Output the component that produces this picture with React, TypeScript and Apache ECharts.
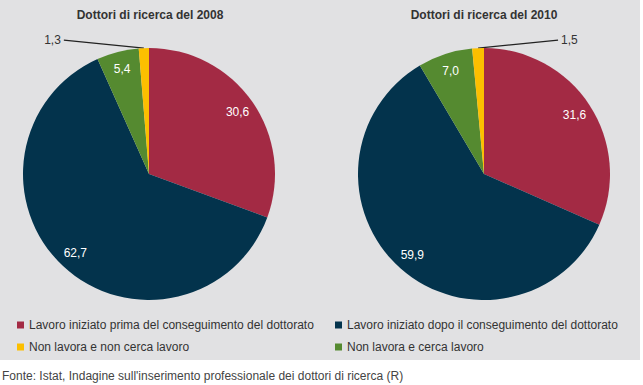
import React, { useEffect, useRef } from 'react';
import * as echarts from 'echarts';

const categories = [
  'Lavoro iniziato prima del conseguimento del dottorato',
  'Lavoro iniziato dopo il conseguimento del dottorato',
  'Non lavora e cerca lavoro',
  'Non lavora e non cerca lavoro',
];
const values2008 = [30.6, 62.7, 5.4, 1.3];
const values2010 = [31.6, 59.9, 7.0, 1.5];
const titles = ['Dottori di ricerca del 2008', 'Dottori di ricerca del 2010'];
const sourceText = "Fonte: Istat, Indagine sull'inserimento professionale dei dottori di ricerca (R)";
const colors = ['#a32a44', '#03334c', '#558a30', '#fcbf00'];

const FONT = "'Liberation Sans', Arial, sans-serif";
const R = 126;
const LABEL_R = 105;
const fmt = (v: number) => v.toFixed(1).replace('.', ',');

function pieSeries(values: number[], center: [number, number], dir: number) {
  const main: any = {
    type: 'pie',
    center,
    radius: [0, R],
    startAngle: 90,
    clockwise: true,
    silent: true,
    avoidLabelOverlap: false,
    z: 2,
    data: categories.map((name, i) => ({
      name,
      value: values[i],
      itemStyle: { color: colors[i] },
      label: { show: i === 3 },
      labelLine: { show: i === 3 },
    })),
    label: {
      position: 'outside',
      formatter: (p: any) => fmt(p.value),
      color: '#333',
      fontSize: 12,
      fontFamily: FONT,
    },
    labelLine: { length: 5, length2: 10, lineStyle: { color: '#222', width: 1.2 } },
    labelLayout: (p: any) => {
      if (p.dataIndex !== 3 || !p.labelLinePoints) return {};
      const [x0, y0] = p.labelLinePoints[0];
      const ex = x0 + dir * 80;
      const ey = y0 - 8;
      return {
        x: ex + dir * 3,
        y: ey,
        align: dir < 0 ? 'right' : 'left',
        verticalAlign: 'middle',
        labelLinePoints: [
          [x0, y0],
          [x0 + dir * 40, y0 - 4],
          [ex, ey],
        ],
      };
    },
  };
  const inner: any = {
    type: 'pie',
    center,
    radius: [0, LABEL_R * 2],
    startAngle: 90,
    clockwise: true,
    silent: true,
    avoidLabelOverlap: false,
    z: 3,
    itemStyle: { color: 'rgba(0,0,0,0)' },
    data: categories.map((name, i) => ({
      name,
      value: values[i],
      label: { show: i !== 3 },
    })),
    label: {
      position: 'inside',
      formatter: (p: any) => fmt(p.value),
      color: '#ffffff',
      fontSize: 12,
      fontFamily: FONT,
    },
    labelLine: { show: false },
    emphasis: { disabled: true },
  };
  return [main, inner];
}

export default function App() {
  const ref = useRef<HTMLDivElement>(null);
  useEffect(() => {
    if (!ref.current) return;
    const chart = echarts.init(ref.current, undefined, { renderer: 'svg' });
    const legendItem = (i: number) => ({
      name: categories[i],
      icon: 'rect',
      itemStyle: { color: colors[i] },
    });
    const legendBase = {
      orient: 'vertical',
      top: 318,
      padding: 0,
      itemWidth: 7,
      itemHeight: 7,
      itemGap: 8,
      selectedMode: false,
      textStyle: { fontSize: 12, fontFamily: FONT, color: '#333', lineHeight: 14 },
    };
    chart.setOption({
      animation: false,
      backgroundColor: '#ffffff',
      legend: [
        { ...legendBase, left: 17, data: [legendItem(0), legendItem(3)] },
        { ...legendBase, left: 335, data: [legendItem(1), legendItem(2)] },
      ],
      graphic: [
        {
          type: 'rect',
          z: -10,
          shape: { x: 0, y: 0, width: 640, height: 360 },
          style: { fill: '#e1e1e3' },
          silent: true,
        },
        {
          type: 'text',
          x: 150,
          y: 15,
          style: {
            text: titles[0],
            fontSize: 12,
            fontWeight: 'bold',
            fontFamily: FONT,
            fill: '#333',
            textAlign: 'center',
            textVerticalAlign: 'middle',
          },
        },
        {
          type: 'text',
          x: 484,
          y: 15,
          style: {
            text: titles[1],
            fontSize: 12,
            fontWeight: 'bold',
            fontFamily: FONT,
            fill: '#333',
            textAlign: 'center',
            textVerticalAlign: 'middle',
          },
        },
        {
          type: 'text',
          x: 2,
          y: 376,
          style: {
            text: sourceText,
            fontSize: 12,
            fontFamily: FONT,
            fill: '#444',
            textAlign: 'left',
            textVerticalAlign: 'middle',
          },
        },
      ],
      series: [
        ...pieSeries(values2008, [149, 174], -1),
        ...pieSeries(values2010, [484, 174], 1),
      ],
    });
    return () => chart.dispose();
  }, []);
  return (
    <div
      ref={ref}
      style={{ position: 'absolute', left: 0, top: 0, width: 643, height: 385 }}
    />
  );
}
